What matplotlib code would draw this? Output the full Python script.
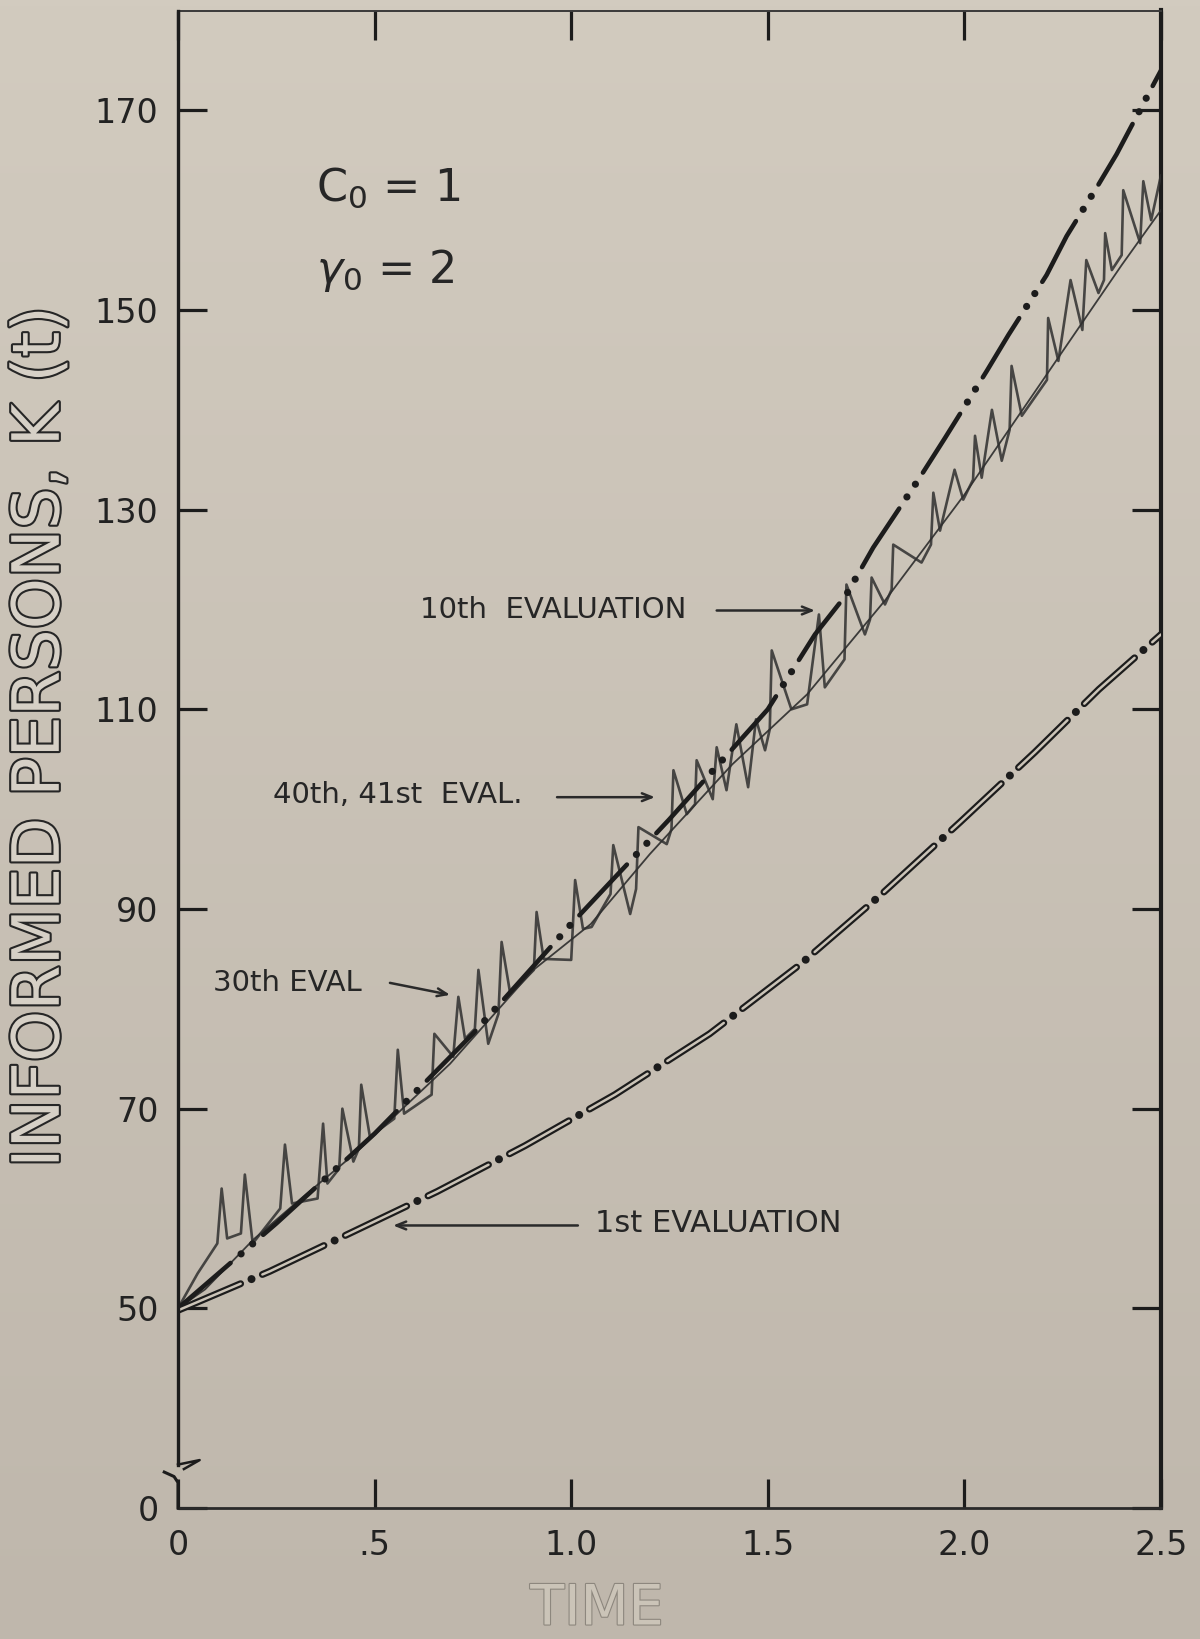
import numpy as np
import matplotlib
matplotlib.use("Agg")
import matplotlib.pyplot as plt
import matplotlib.patheffects as pe
from matplotlib.colors import LinearSegmentedColormap

plt.rcParams['font.family'] = ['DejaVu Sans']
plt.rcParams['mathtext.fontset'] = 'dejavusans'
plt.rcParams['lines.scale_dashes'] = False

# ---------------- data ----------------
x_ticks = [0.0, 0.5, 1.0, 1.5, 2.0, 2.5]
x_tick_labels = ["0", ".5", "1.0", "1.5", "2.0", "2.5"]
y_ticks = [30, 50, 70, 90, 110, 130, 150, 170]
y_tick_labels = ["0", "50", "70", "90", "110", "130", "150", "170"]

# 1st evaluation (dash-dot)
eval1_t = [0.0, 0.233, 0.436, 0.659, 0.883, 1.111, 1.352, 1.584, 1.787, 1.989, 2.179, 2.342, 2.5]
eval1_k = [49.8, 53.7, 57.5, 61.7, 66.3, 71.4, 77.5, 84.5, 91.4, 98.7, 105.7, 112.0, 117.5]

# 10th evaluation (dash-dot-dot)
eval10_t = [0.0, 0.25, 0.5, 0.75, 1.0, 1.25, 1.5, 1.62, 1.70, 1.768, 1.883, 1.951,
            2.057, 2.112, 2.209, 2.26, 2.34, 2.387, 2.485, 2.5]
eval10_k = [50.0, 58.5, 67.5, 77.5, 88.5, 99.0, 110.0, 117.5, 121.5, 126.2, 133.0, 137.2,
            143.9, 147.5, 153.5, 157.4, 162.5, 165.6, 172.9, 174.0]

# 30th evaluation (oscillating trace)
eval30_t = [0.00, 0.05, 0.10, 0.111, 0.125, 0.16, 0.17, 0.19, 0.26, 0.272, 0.29, 0.355,
            0.369, 0.38, 0.41, 0.418, 0.446, 0.46, 0.466, 0.488, 0.55, 0.559, 0.575, 0.645,
            0.652, 0.70, 0.713, 0.73, 0.755, 0.764, 0.789, 0.815, 0.823, 0.845, 0.905, 0.912,
            0.93, 1.0, 1.01, 1.03, 1.052, 1.10, 1.107, 1.15, 1.165, 1.171, 1.243, 1.255,
            1.26, 1.294, 1.315, 1.319, 1.36, 1.37, 1.395, 1.42, 1.45, 1.47, 1.493, 1.505,
            1.51, 1.56, 1.60, 1.63, 1.645, 1.695, 1.70, 1.747, 1.76, 1.764, 1.798, 1.815,
            1.819, 1.891, 1.915, 1.921, 1.938, 1.975, 1.997, 2.022, 2.027, 2.044, 2.07, 2.095,
            2.115, 2.12, 2.146, 2.21, 2.213, 2.239, 2.27, 2.30, 2.31, 2.341, 2.355, 2.358,
            2.375, 2.40, 2.404, 2.447, 2.455, 2.475, 2.5]
eval30_k = [50.0, 53.5, 56.5, 62.0, 57.0, 57.5, 63.4, 56.5, 60.0, 66.4, 60.5, 61.0,
            68.5, 62.5, 64.0, 70.0, 64.7, 66.0, 72.4, 67.2, 69.0, 75.9, 69.5, 71.4,
            77.5, 75.2, 81.2, 77.0, 78.0, 83.9, 76.5, 79.5, 86.7, 81.5, 83.9, 89.7,
            85.0, 84.9, 92.9, 88.0, 88.2, 91.5, 96.4, 89.5, 92.0, 98.2, 96.5, 98.0,
            103.9, 99.5, 100.5, 104.9, 101.0, 106.2, 101.9, 108.5, 102.2, 109.0, 105.9, 108.0,
            115.9, 110.0, 110.5, 119.5, 112.2, 115.0, 122.5, 117.5, 119.0, 123.2, 120.5, 122.0,
            126.5, 124.7, 126.5, 131.7, 127.9, 134.0, 131.0, 133.0, 137.4, 133.2, 140.0, 134.9,
            138.0, 144.4, 139.4, 143.0, 149.2, 144.9, 153.0, 148.0, 155.0, 151.7, 153.0, 157.7,
            154.0, 155.5, 162.0, 156.7, 162.9, 159.0, 163.5]

# 40th, 41st evaluation (thin trace)
eval40_t = [0.0, 0.069, 0.192, 0.319, 0.45, 0.692, 0.904, 1.05, 1.2, 1.41, 1.6, 1.8,
            2.0, 2.2, 2.4, 2.5]
eval40_k = [50.0, 51.9, 56.9, 61.2, 65.5, 74.5, 83.9, 88.5, 95.5, 104.5, 111.5, 121.0,
            131.5, 143.0, 154.5, 160.0]

# ---------------- figure ----------------
W, H = 1200, 1639
fig = plt.figure(figsize=(W / 100, H / 100), dpi=100)

# paper background (gradient)
bg = fig.add_axes([0, 0, 1, 1], zorder=-10)
cmap = LinearSegmentedColormap.from_list("paper", ["#d2cbbf", "#bfb7ac"])
bg.imshow(np.linspace(0, 1, 256)[:, None], cmap=cmap, aspect='auto', extent=[0, 1, 0, 1])
bg.axis('off')

ax = fig.add_axes([178 / W, 1 - 1508 / H, (1161 - 178) / W, (1508 - 10.5) / H])
ax.set_facecolor('none')
ax.set_xlim(0, 2.5)
ax.set_ylim(30, 180)

ink = '#1c1c1c'

# traces
ax.plot(eval40_t, eval40_k, color='#2c2c2c', lw=1.3, zorder=3, alpha=0.9)
ax.plot(eval30_t, eval30_k, color='#2f2f2f', lw=1.9, zorder=3, alpha=0.85,
        solid_joinstyle='round', solid_capstyle='round')

# 10th evaluation: dash-dot-dot
ax.plot(eval10_t, eval10_k, color=ink, lw=3.3, linestyle=(0, (50, 31)),
        dash_capstyle='round', zorder=4)
ax.plot(eval10_t, eval10_k, color=ink, lw=5.2, linestyle=(21, (0.01, 10.99, 0.01, 69.99)),
        dash_capstyle='round', zorder=4)

# 1st evaluation: hollow dashes + solid dots
ax.plot(eval1_t, eval1_k, color=ink, lw=5.0, linestyle=(0, (49, 17)),
        dash_capstyle='round', zorder=4)
ax.plot(eval1_t, eval1_k, color='#cbc4b8', lw=1.8, linestyle=(0, (49, 17)),
        dash_capstyle='round', zorder=5)
ax.plot(eval1_t, eval1_k, color=ink, lw=5.8, linestyle=(8.5, (0.01, 65.99)),
        dash_capstyle='round', zorder=4)

# ---------------- axes styling ----------------
ax.set_xticks(x_ticks)
ax.set_xticklabels(x_tick_labels)
ax.set_yticks(y_ticks)
ax.set_yticklabels(y_tick_labels)
ax.tick_params(axis='both', direction='in', length=21, width=2.3, color=ink,
               top=True, right=True, labelsize=24, labelcolor='#222222')
ax.tick_params(axis='x', pad=15)
ax.tick_params(axis='y', pad=14)

ax.spines['left'].set_visible(False)
ax.spines['right'].set_linewidth(3.0)
ax.spines['right'].set_color(ink)
ax.spines['top'].set_linewidth(1.4)
ax.spines['top'].set_color('#3a3a3a')
ax.spines['bottom'].set_linewidth(2.0)
ax.spines['bottom'].set_color('#2a2a2a')

# left spine with axis-break mark
ax.plot([0, 0], [0.029, 1], transform=ax.transAxes, color=ink, lw=2.4, clip_on=False, zorder=6)
ax.plot([0, 0.022, 0.006], [0.029, 0.032, 0.026], transform=ax.transAxes, color=ink,
        lw=1.8, clip_on=False, zorder=6)
ax.plot([-0.014, -0.004, 0.0, 0.0], [0.024, 0.021, 0.017, 0.0], transform=ax.transAxes,
        color=ink, lw=2.2, clip_on=False, zorder=6)

# ---------------- annotations ----------------
tc = '#262626'
ax.text(0.351, 162.2, r"$\mathrm{C}_0$ = 1", fontsize=32, ha='left', va='center', color=tc)
ax.text(0.351, 154.0, r"$\gamma_0$ = 2", fontsize=32, ha='left', va='center', color=tc)

arrow = dict(arrowstyle='->,head_length=0.7,head_width=0.28', lw=1.8, color='#2a2a2a',
             shrinkA=0, shrinkB=0)
ax.text(0.615, 119.9, "10th  EVALUATION", fontsize=21, ha='left', va='center', color=tc)
ax.annotate('', xy=(1.62, 119.9), xytext=(1.37, 119.9), arrowprops=arrow)

ax.text(0.242, 101.4, "40th, 41st  EVAL.", fontsize=21, ha='left', va='center', color=tc)
ax.annotate('', xy=(1.213, 101.2), xytext=(0.964, 101.2), arrowprops=arrow)

ax.text(0.089, 82.6, "30th EVAL", fontsize=21, ha='left', va='center', color=tc)
ax.annotate('', xy=(0.692, 81.4), xytext=(0.539, 82.6), arrowprops=arrow)

ax.text(1.06, 58.5, "1st EVALUATION", fontsize=22, ha='left', va='center', color=tc)
ax.annotate('', xy=(0.547, 58.3), xytext=(1.017, 58.3), arrowprops=arrow)

# axis titles (outlined lettering)
fig.text(0.034, 0.550, "INFORMED PERSONS, K (t)", rotation=90, fontsize=47,
         ha='center', va='center', color='#d6d0c6',
         path_effects=[pe.Stroke(linewidth=3.0, foreground='#262626'), pe.Normal()])
fig.text(0.4975, 0.018, "TIME", fontsize=40, ha='center', va='center',
         color='#cbc4b8',
         path_effects=[pe.Stroke(linewidth=1.6, foreground='#8d877e'), pe.Normal()])

fig.savefig("out.png", dpi=100)
